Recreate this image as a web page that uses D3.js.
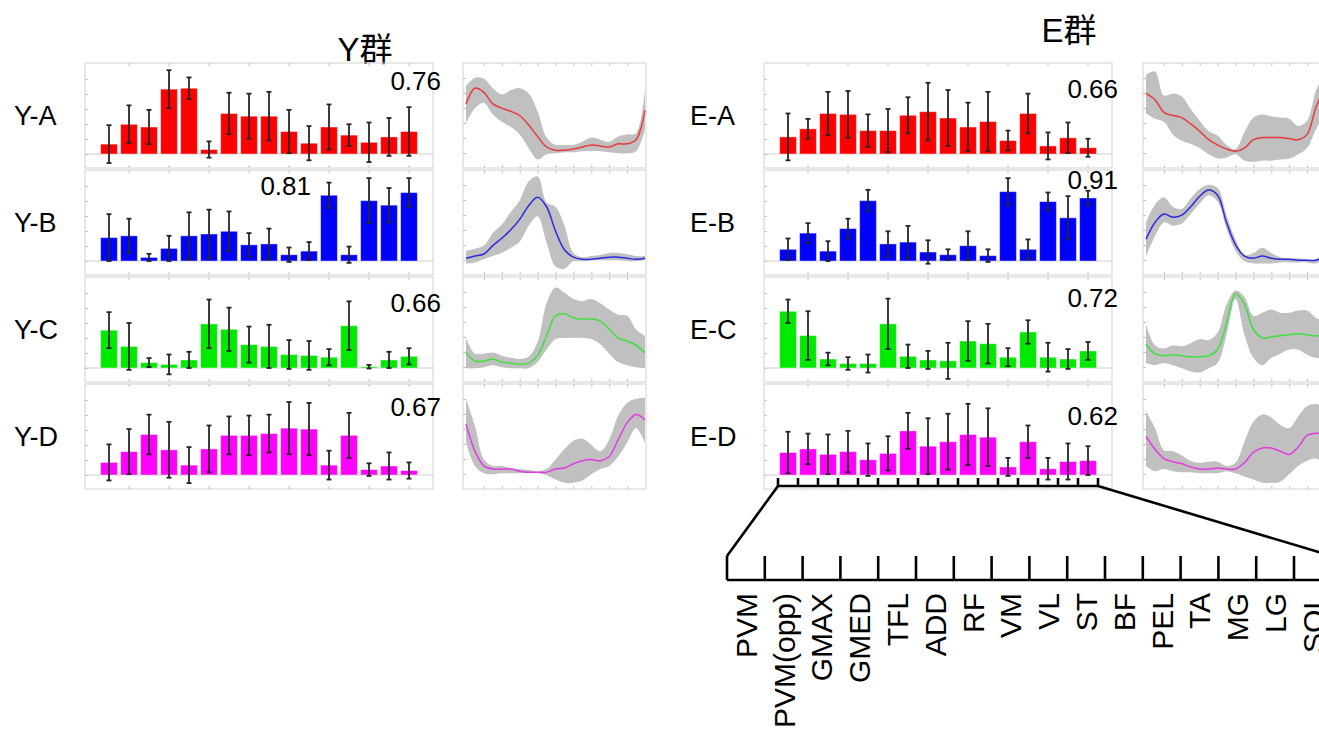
<!DOCTYPE html>
<html>
<head>
<meta charset="utf-8">
<script src="https://cdn.jsdelivr.net/npm/d3@7"></script>
<style>
  body { margin: 0; background: #fff; }
  text { font-family: "Liberation Sans", Arial, "Noto Sans CJK SC", sans-serif; fill: #000; }
</style>
</head>
<body>
<div id="chart"></div>
<script>
// Data (bar values / line values are fractions of the panel scale).
const muscles = ["PVM", "PVM(opp)", "GMAX", "GMED", "TFL", "ADD", "RF", "VM", "VL", "ST", "BF", "PEL", "TA", "MG", "LG", "SOL"];
const groupTitles = ["Y群", "E群"];
const yNames = ["Y-A", "Y-B", "Y-C", "Y-D"];
const eNames = ["E-A", "E-B", "E-C", "E-D"];
const yCorr = ["0.76", "0.81", "0.66", "0.67"];
const eCorr = ["0.66", "0.91", "0.72", "0.62"];

const yBarMean = [
  [0.11, 0.33, 0.30, 0.72, 0.73, 0.05, 0.45, 0.42, 0.42, 0.25, 0.12, 0.30, 0.21, 0.13, 0.19, 0.25],
  [0.26, 0.28, 0.04, 0.14, 0.28, 0.30, 0.33, 0.18, 0.19, 0.07, 0.11, 0.73, 0.07, 0.67, 0.62, 0.76],
  [0.42, 0.24, 0.06, 0.04, 0.09, 0.49, 0.43, 0.26, 0.24, 0.15, 0.14, 0.12, 0.47, 0.015, 0.09, 0.13],
  [0.14, 0.26, 0.45, 0.28, 0.11, 0.29, 0.44, 0.44, 0.46, 0.52, 0.51, 0.11, 0.44, 0.06, 0.10, 0.05]
];
const yBarSd = [
  [0.21, 0.21, 0.19, 0.21, 0.12, 0.09, 0.23, 0.25, 0.27, 0.24, 0.19, 0.25, 0.12, 0.22, 0.21, 0.27],
  [0.26, 0.19, 0.04, 0.14, 0.26, 0.27, 0.22, 0.13, 0.17, 0.08, 0.10, 0.14, 0.09, 0.25, 0.19, 0.16],
  [0.20, 0.26, 0.05, 0.11, 0.09, 0.27, 0.24, 0.20, 0.24, 0.16, 0.16, 0.09, 0.27, 0.02, 0.09, 0.09],
  [0.20, 0.25, 0.22, 0.31, 0.20, 0.26, 0.21, 0.22, 0.21, 0.29, 0.29, 0.16, 0.25, 0.07, 0.15, 0.09]
];
const eBarMean = [
  [0.19, 0.28, 0.45, 0.44, 0.26, 0.26, 0.43, 0.47, 0.40, 0.30, 0.36, 0.15, 0.45, 0.09, 0.18, 0.07],
  [0.13, 0.31, 0.11, 0.36, 0.67, 0.19, 0.21, 0.10, 0.07, 0.17, 0.06, 0.77, 0.13, 0.66, 0.48, 0.70],
  [0.63, 0.36, 0.10, 0.05, 0.05, 0.49, 0.13, 0.09, 0.08, 0.30, 0.27, 0.12, 0.40, 0.12, 0.10, 0.19],
  [0.25, 0.29, 0.23, 0.26, 0.17, 0.24, 0.49, 0.32, 0.37, 0.45, 0.42, 0.09, 0.37, 0.07, 0.15, 0.16]
];
const eBarSd = [
  [0.26, 0.11, 0.24, 0.26, 0.18, 0.24, 0.20, 0.32, 0.31, 0.27, 0.33, 0.11, 0.22, 0.15, 0.17, 0.10],
  [0.12, 0.11, 0.11, 0.11, 0.12, 0.14, 0.18, 0.13, 0.06, 0.16, 0.07, 0.15, 0.11, 0.10, 0.24, 0.08],
  [0.13, 0.27, 0.07, 0.07, 0.10, 0.28, 0.13, 0.10, 0.20, 0.22, 0.22, 0.10, 0.13, 0.16, 0.11, 0.10],
  [0.23, 0.17, 0.22, 0.23, 0.18, 0.19, 0.20, 0.31, 0.31, 0.34, 0.32, 0.10, 0.18, 0.12, 0.20, 0.16]
];

// gait cycle (%) sample points for the activation curves
const cycle = [0, 5, 10, 15, 20, 25, 30, 35, 40, 45, 50, 55, 60, 65, 70, 75, 80, 85, 90, 95, 100];

const yLineMean = [
  [0.61, 0.76, 0.72, 0.61, 0.57, 0.54, 0.50, 0.41, 0.30, 0.20, 0.17, 0.17, 0.18, 0.20, 0.22, 0.21, 0.20, 0.23, 0.23, 0.27, 0.55],
  [0.16, 0.18, 0.20, 0.28, 0.35, 0.43, 0.53, 0.66, 0.74, 0.65, 0.42, 0.24, 0.17, 0.15, 0.15, 0.16, 0.17, 0.17, 0.16, 0.15, 0.16],
  [0.28, 0.20, 0.20, 0.22, 0.19, 0.18, 0.17, 0.18, 0.25, 0.44, 0.63, 0.65, 0.61, 0.60, 0.60, 0.58, 0.50, 0.42, 0.39, 0.35, 0.28],
  [0.62, 0.36, 0.22, 0.19, 0.19, 0.19, 0.17, 0.16, 0.16, 0.16, 0.19, 0.20, 0.24, 0.27, 0.28, 0.27, 0.31, 0.47, 0.63, 0.71, 0.66]
];
const yLineUpper = [
  [0.78, 0.86, 0.85, 0.76, 0.70, 0.74, 0.76, 0.71, 0.54, 0.29, 0.22, 0.22, 0.22, 0.25, 0.29, 0.27, 0.25, 0.30, 0.32, 0.33, 0.76],
  [0.23, 0.25, 0.28, 0.40, 0.48, 0.60, 0.71, 0.89, 0.94, 0.69, 0.65, 0.47, 0.21, 0.17, 0.18, 0.19, 0.21, 0.21, 0.20, 0.18, 0.18],
  [0.42, 0.27, 0.27, 0.28, 0.25, 0.23, 0.22, 0.24, 0.38, 0.75, 0.90, 0.85, 0.79, 0.77, 0.79, 0.75, 0.69, 0.64, 0.63, 0.50, 0.44],
  [0.86, 0.60, 0.28, 0.22, 0.22, 0.20, 0.19, 0.18, 0.17, 0.19, 0.28, 0.38, 0.46, 0.48, 0.42, 0.36, 0.47, 0.70, 0.82, 0.86, 0.87]
];
const yLineLower = [
  [0.43, 0.57, 0.62, 0.51, 0.44, 0.39, 0.32, 0.19, 0.08, 0.13, 0.14, 0.15, 0.15, 0.16, 0.16, 0.16, 0.15, 0.14, 0.14, 0.16, 0.37],
  [0.11, 0.12, 0.15, 0.18, 0.21, 0.26, 0.32, 0.47, 0.56, 0.31, 0.08, 0.06, 0.13, 0.13, 0.14, 0.14, 0.14, 0.14, 0.13, 0.13, 0.14],
  [0.13, 0.13, 0.14, 0.16, 0.14, 0.13, 0.13, 0.13, 0.19, 0.31, 0.41, 0.42, 0.42, 0.42, 0.41, 0.36, 0.27, 0.19, 0.16, 0.14, 0.13],
  [0.44, 0.22, 0.15, 0.14, 0.15, 0.15, 0.15, 0.15, 0.15, 0.13, 0.09, 0.06, 0.06, 0.08, 0.14, 0.19, 0.22, 0.31, 0.44, 0.58, 0.44]
];
const eLineMean = [
  [0.71, 0.65, 0.53, 0.50, 0.48, 0.42, 0.35, 0.27, 0.22, 0.18, 0.16, 0.19, 0.27, 0.29, 0.29, 0.29, 0.28, 0.27, 0.32, 0.58, 0.77],
  [0.34, 0.50, 0.58, 0.55, 0.57, 0.65, 0.75, 0.81, 0.76, 0.50, 0.29, 0.18, 0.16, 0.18, 0.16, 0.15, 0.15, 0.14, 0.14, 0.14, 0.19],
  [0.36, 0.27, 0.25, 0.26, 0.25, 0.24, 0.24, 0.25, 0.31, 0.56, 0.84, 0.74, 0.50, 0.42, 0.43, 0.44, 0.45, 0.46, 0.45, 0.44, 0.44],
  [0.50, 0.38, 0.29, 0.26, 0.24, 0.21, 0.19, 0.19, 0.20, 0.19, 0.19, 0.25, 0.35, 0.39, 0.39, 0.36, 0.33, 0.40, 0.51, 0.53, 0.53]
];
const eLineUpper = [
  [0.89, 0.92, 0.69, 0.71, 0.68, 0.56, 0.45, 0.35, 0.31, 0.22, 0.18, 0.34, 0.48, 0.51, 0.49, 0.48, 0.47, 0.40, 0.45, 0.74, 0.90],
  [0.50, 0.67, 0.74, 0.65, 0.63, 0.73, 0.82, 0.86, 0.83, 0.57, 0.34, 0.19, 0.21, 0.26, 0.21, 0.17, 0.16, 0.16, 0.15, 0.15, 0.23],
  [0.55, 0.35, 0.32, 0.35, 0.34, 0.37, 0.41, 0.40, 0.47, 0.74, 0.87, 0.81, 0.63, 0.66, 0.69, 0.66, 0.66, 0.68, 0.68, 0.61, 0.58],
  [0.74, 0.58, 0.37, 0.36, 0.32, 0.27, 0.25, 0.26, 0.26, 0.22, 0.25, 0.45, 0.64, 0.71, 0.68, 0.61, 0.58, 0.69, 0.79, 0.81, 0.77]
];
const eLineLower = [
  [0.52, 0.47, 0.44, 0.32, 0.26, 0.23, 0.19, 0.13, 0.09, 0.10, 0.13, 0.07, 0.06, 0.07, 0.07, 0.08, 0.09, 0.13, 0.19, 0.37, 0.52],
  [0.18, 0.37, 0.50, 0.47, 0.49, 0.58, 0.68, 0.76, 0.70, 0.44, 0.23, 0.13, 0.11, 0.11, 0.11, 0.12, 0.12, 0.12, 0.12, 0.11, 0.16],
  [0.18, 0.16, 0.18, 0.16, 0.13, 0.10, 0.09, 0.13, 0.18, 0.45, 0.79, 0.45, 0.23, 0.16, 0.23, 0.27, 0.31, 0.31, 0.26, 0.23, 0.23],
  [0.22, 0.17, 0.19, 0.17, 0.16, 0.16, 0.15, 0.15, 0.15, 0.17, 0.15, 0.12, 0.09, 0.06, 0.06, 0.07, 0.14, 0.22, 0.27, 0.29, 0.22]
];

// Layout and style constants
const WIDTH = 1319, HEIGHT = 734;
const ROW_TOP = 63, ROW_STEP = 107, ROW_H = 105;
const BAR_W = 348, LINE_W = 183;
const BAR_COLORS = ["#ff0000", "#0000ff", "#00ea00", "#ff00ff"];
const LINE_COLORS = ["#e83a3a", "#2a2ae0", "#3ee03e", "#e23ae2"];
const FRAME = "#d2d2d2";
const LAYOUT = [
  { barX: 85, lineX: 463, labelX: 14, titleX: 365, titleY: 61,
    corrPos: [[356, 27], [226, 25], [356, 35], [356, 32]] },
  { barX: 764, lineX: 1143, labelX: 690, titleX: 1069, titleY: 42,
    corrPos: [[354, 35], [354, 19], [354, 30], [354, 41]] }
];

const svg = d3.select("#chart").append("svg")
  .attr("width", WIDTH).attr("height", HEIGHT)
  .style("background", "#fff");

// Shared scales
const xBar = d3.scaleBand().domain(muscles).range([14, 334]).paddingInner(0.16).paddingOuter(0.08);
const yBar = d3.scaleLinear().domain([-0.155, 1.01]).range([ROW_H, 0]);
const xLine = d3.scaleLinear().domain([0, 100]).range([3, 182]);
const yLine = d3.scaleLinear().domain([0, 1]).range([ROW_H, 0]);

drawGroup(0, yNames, yCorr, yBarMean, yBarSd, yLineMean, yLineUpper, yLineLower);
drawGroup(1, eNames, eCorr, eBarMean, eBarSd, eLineMean, eLineUpper, eLineLower);
drawBracket();

function styleTicks (sel) {
  sel.select(".domain").remove();
  sel.selectAll(".tick line").attr("stroke", "#c4c4c4").attr("stroke-width", 1);
}

function drawGroup (gi, names, corr, barMean, barSd, lineMean, lineUp, lineLo) {
  const lay = LAYOUT[gi];

  svg.append("text")
    .attr("x", lay.titleX).attr("y", lay.titleY)
    .attr("text-anchor", "middle")
    .style("font-size", "33px")
    .text(groupTitles[gi]);

  names.forEach((name, r) => {
    const top = ROW_TOP + r * ROW_STEP;

    svg.append("text")
      .attr("x", lay.labelX).attr("y", top + ROW_H / 2)
      .attr("dy", "0.36em")
      .style("font-size", "27px")
      .text(name);

    // Bar panel
    const bp = svg.append("g").attr("transform", `translate(${lay.barX},${top})`);
    bp.append("rect").attr("width", BAR_W).attr("height", ROW_H)
      .attr("fill", "none").attr("stroke", FRAME);
    bp.append("g").call(d3.axisLeft(yBar).tickValues(d3.range(0, 6).map(d => d / 6)).tickSize(-3).tickFormat(""))
      .call(styleTicks);
    const oddMuscles = muscles.filter((m, i) => i % 2 === 1);
    bp.append("g").attr("transform", `translate(0,${ROW_H})`)
      .call(d3.axisBottom(xBar).tickValues(oddMuscles).tickSize(-3).tickFormat(""))
      .call(styleTicks);
    bp.append("g")
      .call(d3.axisTop(xBar).tickValues(oddMuscles).tickSize(-3).tickFormat(""))
      .call(styleTicks);
    bp.append("line")
      .attr("x1", 0).attr("x2", BAR_W)
      .attr("y1", yBar(0)).attr("y2", yBar(0))
      .attr("stroke", "#cfcfcf");

    const rows = muscles.map((m, i) => ({ m: m, v: barMean[r][i], sd: barSd[r][i] }));
    bp.selectAll("rect.bar").data(rows).enter().append("rect")
      .attr("class", "bar")
      .attr("x", d => xBar(d.m))
      .attr("y", d => yBar(d.v))
      .attr("width", xBar.bandwidth())
      .attr("height", d => yBar(0) - yBar(d.v))
      .attr("fill", BAR_COLORS[r])
      .attr("stroke", "rgba(255,255,255,0.45)")
      .attr("stroke-width", 1);

    const eb = bp.selectAll("g.err").data(rows).enter().append("g").attr("class", "err")
      .attr("stroke", "#262626").attr("stroke-width", 1.8);
    const cx = d => xBar(d.m) + xBar.bandwidth() / 2;
    eb.append("line")
      .attr("x1", cx).attr("x2", cx)
      .attr("y1", d => yBar(d.v - d.sd)).attr("y2", d => yBar(d.v + d.sd));
    eb.append("line")
      .attr("x1", d => cx(d) - 2.5).attr("x2", d => cx(d) + 2.5)
      .attr("y1", d => yBar(d.v + d.sd)).attr("y2", d => yBar(d.v + d.sd));
    eb.append("line")
      .attr("x1", d => cx(d) - 2.5).attr("x2", d => cx(d) + 2.5)
      .attr("y1", d => yBar(d.v - d.sd)).attr("y2", d => yBar(d.v - d.sd));

    bp.append("text")
      .attr("x", lay.corrPos[r][0]).attr("y", lay.corrPos[r][1])
      .attr("text-anchor", "end")
      .style("font-size", "26px")
      .text(corr[r]);

    // Activation curve panel
    const lp = svg.append("g").attr("transform", `translate(${lay.lineX},${top})`);
    lp.append("rect").attr("width", LINE_W).attr("height", ROW_H)
      .attr("fill", "none").attr("stroke", FRAME);
    lp.append("g").call(d3.axisLeft(yLine).tickValues(d3.range(1, 7).map(d => d / 7)).tickSize(-3).tickFormat(""))
      .call(styleTicks);
    lp.append("g").attr("transform", `translate(0,${ROW_H})`)
      .call(d3.axisBottom(xLine).tickValues(d3.range(10, 100, 10)).tickSize(-3).tickFormat(""))
      .call(styleTicks);
    lp.append("g")
      .call(d3.axisTop(xLine).tickValues(d3.range(10, 100, 10)).tickSize(-3).tickFormat(""))
      .call(styleTicks);

    const pts = cycle.map((c, i) => ({ c: c, m: lineMean[r][i], up: lineUp[r][i], lo: lineLo[r][i] }));
    lp.append("path").datum(pts)
      .attr("fill", "#c0c0c0")
      .attr("d", d3.area().curve(d3.curveCatmullRom.alpha(0.5))
        .x(d => xLine(d.c)).y0(d => yLine(d.lo)).y1(d => yLine(d.up)));
    lp.append("path").datum(pts)
      .attr("fill", "none")
      .attr("stroke", LINE_COLORS[r])
      .attr("stroke-width", 1.5)
      .attr("d", d3.line().curve(d3.curveCatmullRom.alpha(0.5))
        .x(d => xLine(d.c)).y(d => yLine(d.m)));
  });
}

// Zoomed muscle axis under the E group
function drawBracket () {
  const ox = LAYOUT[1].barX;
  const step = xBar.step();
  const gap = step - xBar.bandwidth();
  const upper = muscles.map(m => ox + xBar(m) - gap / 2);
  upper.push(upper[upper.length - 1] + step);

  const xLow = d3.scaleBand().domain(muscles).range([727, 727 + 16 * 37.8]);
  const lower = muscles.map(m => xLow(m));
  lower.push(xLow.range()[1]);

  const upY = 486, lowY = 580, lowTop = 556;
  const g = svg.append("g").attr("stroke", "#000").attr("stroke-width", 2.6).attr("fill", "none");

  g.append("line").attr("x1", upper[0]).attr("x2", upper[upper.length - 1]).attr("y1", upY).attr("y2", upY);
  g.selectAll("line.ut").data(upper).enter().append("line").attr("class", "ut")
    .attr("x1", d => d).attr("x2", d => d).attr("y1", upY - 8).attr("y2", upY);

  g.append("line").attr("x1", upper[0]).attr("y1", upY).attr("x2", lower[0]).attr("y2", lowTop);
  g.append("line").attr("x1", upper[upper.length - 1]).attr("y1", upY).attr("x2", lower[lower.length - 1]).attr("y2", lowTop);

  g.append("line").attr("x1", lower[0]).attr("x2", lower[lower.length - 1]).attr("y1", lowY).attr("y2", lowY);
  g.selectAll("line.lt").data(lower).enter().append("line").attr("class", "lt")
    .attr("x1", d => d).attr("x2", d => d).attr("y1", lowTop).attr("y2", lowY);

  svg.append("g").selectAll("text").data(muscles).enter().append("text")
    .attr("transform", d => `translate(${xLow(d) + xLow.bandwidth() / 2},${lowY + 13}) rotate(-90)`)
    .attr("text-anchor", "end")
    .attr("dy", "0.36em")
    .style("font-size", "30px")
    .text(d => d);
}
</script>
</body>
</html>
